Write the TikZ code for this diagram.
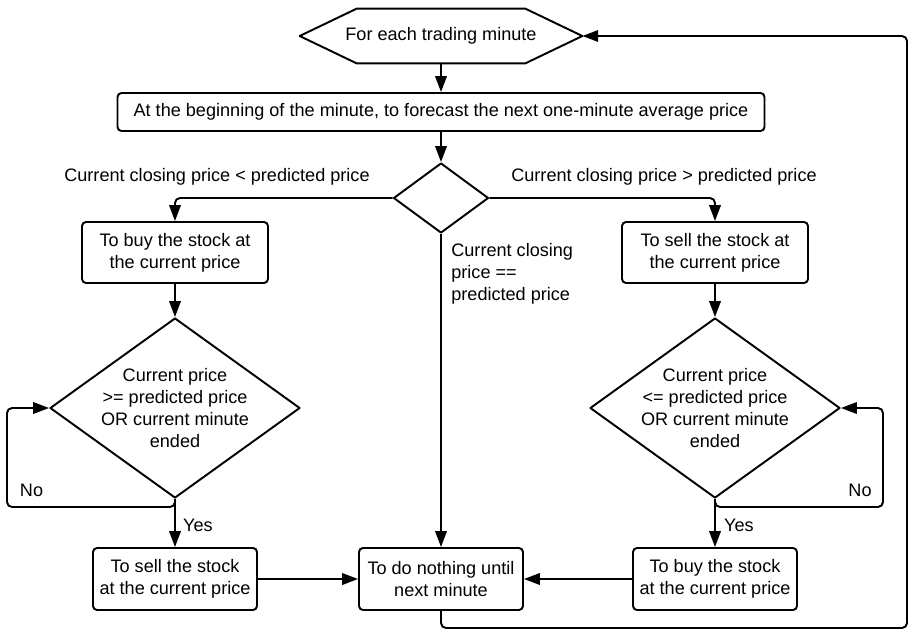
\documentclass[tikz,border=0pt]{standalone}
\usepackage{fontspec}
\setmainfont{Liberation Sans}
\usetikzlibrary{arrows.meta,shapes.geometric}

\tikzset{
  flow/.style={line width=1.1pt, -{Triangle[length=9pt,width=6.5pt]}},
  box/.style={draw, line width=1.1pt, rounded corners=0.08cm, align=center, inner sep=0pt},
  decision/.style={draw, line width=1.1pt, diamond, aspect=1.39, align=center, inner sep=0pt},
  lbl/.style={inner sep=0pt}
}

\begin{document}
\begin{tikzpicture}[font=\fontsize{10.3}{12.5}\selectfont, line join=round]
      \useasboundingbox (0,0) rectangle (18.18,-12.60);

      \node[minimum width=5.64cm, minimum height=1.08cm, inner sep=0pt] (start) at (8.82,-0.72)
        {For each trading minute};
      \draw[line width=1.1pt] (start.west) -- ([xshift=1.14cm]start.north west)
        -- ([xshift=-1.14cm]start.north east) -- (start.east)
        -- ([xshift=-1.14cm]start.south east) -- ([xshift=1.14cm]start.south west) -- cycle;

      \node[box, minimum width=12.94cm, minimum height=0.76cm] (forecast) at (8.82,-2.24)
        {At the beginning of the minute, to forecast the next one-minute average price};
      \node[decision, minimum width=1.90cm, minimum height=1.40cm] (decide) at (8.82,-3.96) {};

      \node[box, minimum width=3.72cm, minimum height=1.22cm] (buyA) at (3.50,-5.05)
        {To buy the stock at\\the current price};
      \node[box, minimum width=3.72cm, minimum height=1.22cm] (sellA) at (14.30,-5.05)
        {To sell the stock at\\the current price};

      \node[decision, inner sep=-2pt, minimum width=5.00cm, minimum height=3.60cm] (checkL) at (3.50,-8.16)
        {Current price\\>= predicted price\\OR current minute\\ended};
      \node[decision, inner sep=-2pt, minimum width=5.00cm, minimum height=3.60cm] (checkR) at (14.30,-8.16)
        {Current price\\<= predicted price\\OR current minute\\ended};

      \node[box, minimum width=3.28cm, minimum height=1.24cm] (sellB) at (3.50,-11.58)
        {To sell the stock\\at the current price};
      \node[box, minimum width=3.28cm, minimum height=1.24cm] (wait) at (8.82,-11.58)
        {To do nothing until\\next minute};
      \node[box, minimum width=3.28cm, minimum height=1.24cm] (buyB) at (14.30,-11.58)
        {To buy the stock\\at the current price};

      \coordinate (noL) at (0.14,-10.14);
      \coordinate (noR) at (17.66,-10.14);
      \coordinate (back) at (18.14,-12.56);

      \draw[flow] (start) -- (forecast);
      \draw[flow] (forecast) -- (decide);
      \draw[flow, rounded corners=0.1cm] (decide.west) -| (buyA.north);
      \draw[flow, rounded corners=0.1cm] (decide.east) -| (sellA.north);
      \draw[flow] (decide.south) -- (wait.north);
      \draw[flow] (buyA) -- (checkL.north);
      \draw[flow] (sellA) -- (checkR.north);
      \draw[flow] (checkL.south) -- (sellB.north);
      \draw[flow] (checkR.south) -- (buyB.north);
      \draw[flow, rounded corners=0.1cm] (checkL.south) |- (noL) |- (checkL.west);
      \draw[flow, rounded corners=0.1cm] (checkR.south) |- (noR) |- (checkR.east);
      \draw[flow] (sellB) -- (wait);
      \draw[flow] (buyB) -- (wait);
      \draw[flow, rounded corners=0.1cm] (wait.south) |- (back) |- (start.east);

      \node[lbl] (lessLbl) at (4.34,-3.54) {Current closing price < predicted price};
      \node[lbl] (moreLbl) at (13.28,-3.54) {Current closing price > predicted price};
      \node[lbl, align=left, anchor=west] (eqLbl) at (9.02,-5.48)
        {Current closing\\price ==\\predicted price};
      \node[lbl] (noLblL) at (0.63,-9.80) {No};
      \node[lbl] (yesLblL) at (3.96,-10.50) {Yes};
      \node[lbl] (noLblR) at (17.20,-9.80) {No};
      \node[lbl] (yesLblR) at (14.78,-10.50) {Yes};
    \end{tikzpicture}
\end{document}
